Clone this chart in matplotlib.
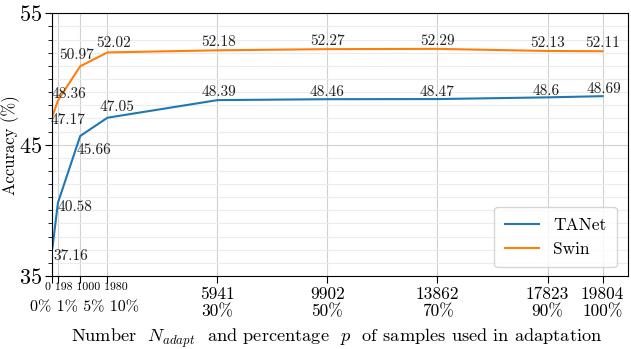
import matplotlib
matplotlib.use("Agg")
import matplotlib.pyplot as plt
from matplotlib.ticker import FixedLocator, MultipleLocator

# data
n_adapt = [0, 198, 1000, 1980, 5941, 9902, 13862, 17823, 19804]
percent = ["0%", "1%", "5%", "10%", "30%", "50%", "70%", "90%", "100%"]
tanet = [37.16, 40.58, 45.66, 47.05, 48.39, 48.46, 48.47, 48.6, 48.69]
swin = [47.17, 48.36, 50.97, 52.02, 52.18, 52.27, 52.29, 52.13, 52.11]
tanet_text = ["37.16", "40.58", "45.66", "47.05", "48.39", "48.46", "48.47", "48.6", "48.69"]
swin_text = ["47.17", "48.36", "50.97", "52.02", "52.18", "52.27", "52.29", "52.13", "52.11"]

# label offsets in pixels (dx, dy), dy positive = up
tanet_off = [(18, -8), (17, -4), (14, -14), (10, 11), (1, 8), (0, 7), (0, 7), (-1, 6), (1, 7)]
swin_off = [(16, -4), (11, 6), (-4, 11), (6, 9), (1, 8), (0, 8), (0, 8), (0, 8), (0, 8)]

plt.rcParams["font.family"] = "serif"
plt.rcParams["font.serif"] = ["cmr10", "DejaVu Serif"]
plt.rcParams["mathtext.fontset"] = "cm"
plt.rcParams["axes.formatter.use_mathtext"] = True

fig = plt.figure(figsize=(6.31, 3.49), dpi=100)
ax = fig.add_axes([0.082, 0.209, 0.913, 0.753])

ax.plot(n_adapt, tanet, color="tab:blue", linewidth=1.5, label="TANet")
ax.plot(n_adapt, swin, color="tab:orange", linewidth=1.5, label="Swin")

for x, y, s, (dx, dy) in zip(n_adapt, tanet, tanet_text, tanet_off):
    ax.annotate(s, (x, y), xytext=(dx, dy), textcoords="offset pixels",
                ha="center", va="center", fontsize=11, color="#222222")
for x, y, s, (dx, dy) in zip(n_adapt, swin, swin_text, swin_off):
    ax.annotate(s, (x, y), xytext=(dx, dy), textcoords="offset pixels",
                ha="center", va="center", fontsize=11, color="#222222")

ax.set_xlim(-25, 20715)
ax.set_ylim(35, 55)
ax.yaxis.set_major_locator(FixedLocator([35, 45, 55]))
ax.yaxis.set_minor_locator(MultipleLocator(1))
ax.tick_params(axis="y", which="major", labelsize=16, length=5, pad=2)
ax.tick_params(axis="y", which="minor", length=3)

ax.set_xticks(n_adapt)
labels = []
for n, p in zip(n_adapt, percent):
    if n < 5000:
        labels.append("")
    else:
        labels.append(f"{n}\n{p}")
ax.set_xticklabels(labels)
for lab in ax.get_xticklabels():
    lab.set_fontsize(12.5)
    lab.set_linespacing(1.1)
ax.tick_params(axis="x", length=5, pad=3)

# crowded first four ticks share one label row each
ax.annotate(" ".join(str(n) for n in n_adapt[:4]), (1215, 0),
            xycoords=("data", "axes fraction"), xytext=(0, -11),
            textcoords="offset pixels", ha="center", va="center", fontsize=8.5)
ax.annotate(" ".join(percent[:4]), (1143, 0), xycoords=("data", "axes fraction"),
            xytext=(0, -31), textcoords="offset pixels", ha="center", va="center",
            fontsize=11.5)

ax.grid(True, which="major", axis="both", color="#d0d0d0", linewidth=0.8)
ax.grid(True, which="minor", axis="y", color="#ececec", linewidth=0.8)
ax.set_axisbelow(True)

ax.set_ylabel("Accuracy (%)", fontsize=12)
ax.yaxis.set_label_coords(-0.055, 0.5)
fig.text(0.533, 0.03, r"Number  $N_{adapt}$  and percentage  $p$  of samples used in adaptation",
         ha="center", va="center", fontsize=13.2)

ax.legend(loc="lower right", fontsize=12.5, handlelength=2.0, borderpad=0.6,
          borderaxespad=0, framealpha=0.8, edgecolor="#cccccc",
          bbox_to_anchor=(0.981, 0.034))

fig.savefig("out.png", dpi=100)
